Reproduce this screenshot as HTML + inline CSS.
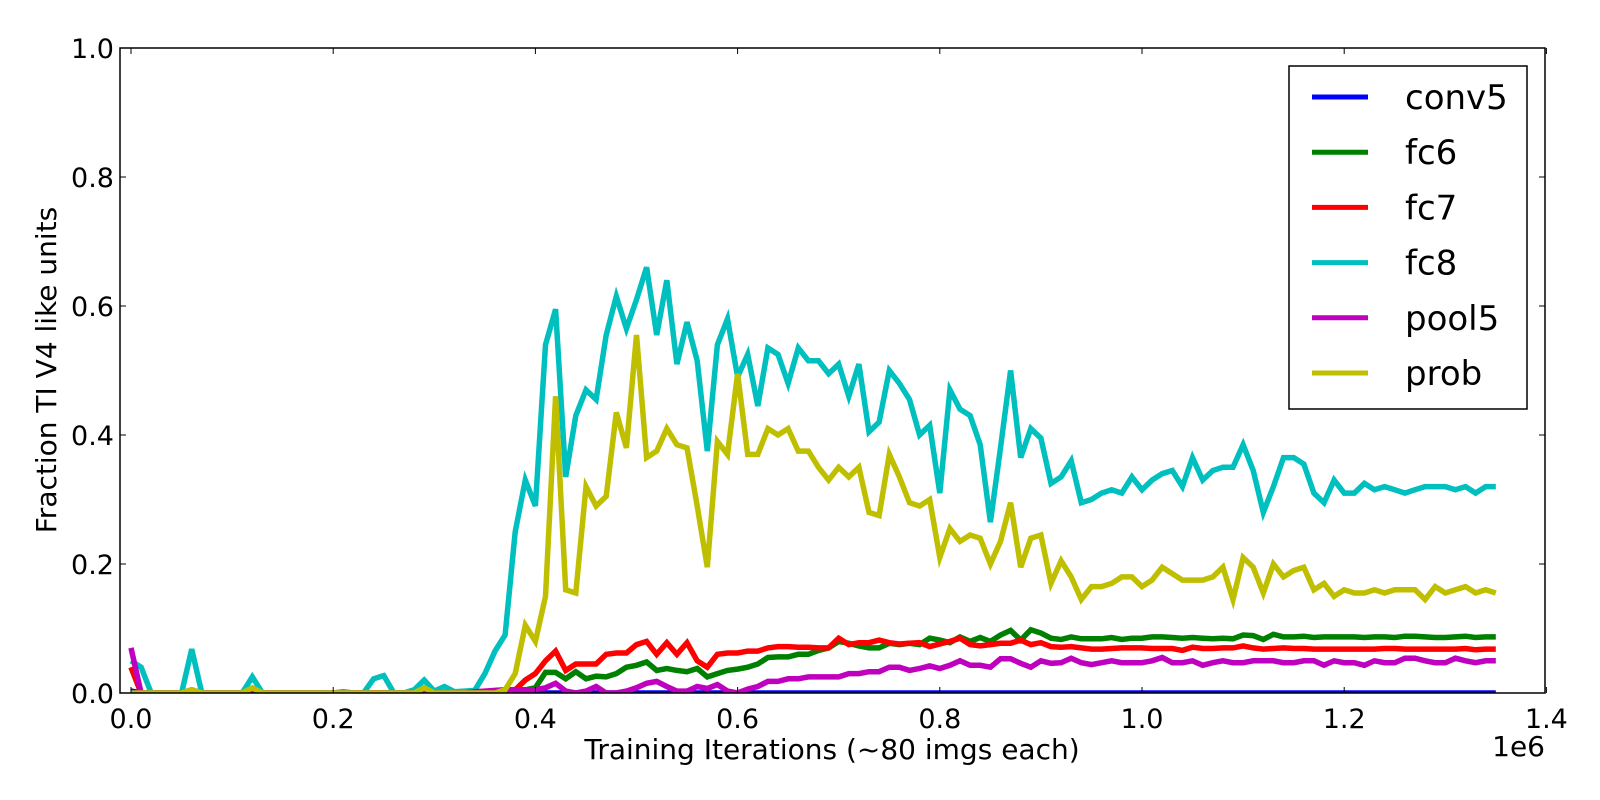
<!DOCTYPE html>
<html><head><meta charset="utf-8"><style>
body{margin:0;background:#fff;}
svg{display:block;font-family:"DejaVu Sans","Liberation Sans",sans-serif;}
</style></head><body>
<svg id="chart" width="1600" height="800" xmlns="http://www.w3.org/2000/svg">
<rect width="1600" height="800" fill="#fff"/>
<g id="plot"></g>
<g id="axes"></g>
<text x="832" y="759" font-size="28" text-anchor="middle">Training Iterations (~80 imgs each)</text>
<text x="1545" y="756" font-size="28" text-anchor="end">1e6</text>
<text transform="translate(56,370) rotate(-90)" font-size="28" text-anchor="middle">Fraction TI V4 like units</text>
<g id="legend"></g>
</svg>
<script>
const seriesNames=["conv5","fc6","fc7","fc8","pool5","prob"];
const seriesColors=["#0000ff","#008000","#ff0000","#00bfbf","#bf00bf","#bfbf00"];
const xStep=10000;
const xTicks=[0,0.2,0.4,0.6,0.8,1.0,1.2,1.4];
const yTicks=[0,0.2,0.4,0.6,0.8,1.0];
const conv5=[0.003].concat(new Array(135).fill(0));
const fc8=[0.05,0.04,0,0,0,0,0.068,0,0,0,0,0,0.025,0,0,0,0,0,0,0,0,0.002,0,0,0.022,0.027,0,0,0.005,0.02,0.003,0.01,0.002,0.003,0.004,0.03,0.065,0.09,0.25,0.33,0.29,0.54,0.595,0.335,0.43,0.47,0.455,0.555,0.615,0.565,0.61,0.66,0.555,0.64,0.51,0.575,0.515,0.375,0.54,0.58,0.49,0.525,0.445,0.535,0.525,0.48,0.535,0.515,0.515,0.495,0.51,0.46,0.51,0.405,0.42,0.5,0.48,0.455,0.4,0.415,0.31,0.47,0.44,0.43,0.385,0.265,0.38,0.5,0.365,0.41,0.395,0.325,0.335,0.36,0.295,0.3,0.31,0.315,0.31,0.335,0.315,0.33,0.34,0.345,0.32,0.365,0.33,0.345,0.35,0.35,0.385,0.345,0.28,0.32,0.365,0.365,0.355,0.31,0.295,0.33,0.31,0.31,0.325,0.315,0.32,0.315,0.31,0.315,0.32,0.32,0.32,0.315,0.32,0.31,0.32,0.32];
const prob=[0,0,0,0,0,0,0.005,0,0,0,0,0,0.008,0,0,0,0,0,0,0,0,0,0,0,0,0,0,0,0,0.008,0,0,0,0,0,0,0,0.005,0.03,0.105,0.08,0.15,0.46,0.16,0.155,0.32,0.29,0.305,0.435,0.38,0.555,0.365,0.375,0.41,0.385,0.38,0.29,0.195,0.39,0.37,0.495,0.37,0.37,0.41,0.4,0.41,0.375,0.375,0.35,0.33,0.35,0.335,0.35,0.28,0.275,0.37,0.335,0.295,0.29,0.3,0.21,0.255,0.235,0.245,0.24,0.2,0.235,0.295,0.195,0.24,0.245,0.17,0.205,0.18,0.145,0.165,0.165,0.17,0.18,0.18,0.165,0.175,0.195,0.185,0.175,0.175,0.175,0.18,0.195,0.145,0.21,0.195,0.155,0.2,0.18,0.19,0.195,0.16,0.17,0.15,0.16,0.155,0.155,0.16,0.155,0.16,0.16,0.16,0.145,0.165,0.155,0.16,0.165,0.155,0.16,0.155];
const fc7=[0.04,0,0,0,0,0,0.005,0,0,0,0,0,0.003,0,0,0,0,0,0,0,0,0,0,0,0,0,0,0,0,0.002,0,0,0,0,0,0,0.002,0.003,0.005,0.02,0.03,0.05,0.065,0.035,0.045,0.045,0.045,0.06,0.062,0.062,0.075,0.08,0.06,0.078,0.06,0.078,0.05,0.04,0.06,0.062,0.062,0.065,0.065,0.07,0.072,0.072,0.071,0.071,0.07,0.07,0.085,0.075,0.078,0.078,0.082,0.078,0.076,0.077,0.078,0.072,0.076,0.08,0.085,0.075,0.073,0.075,0.077,0.077,0.082,0.075,0.078,0.072,0.071,0.072,0.07,0.068,0.068,0.069,0.07,0.07,0.07,0.069,0.069,0.069,0.066,0.071,0.069,0.069,0.07,0.07,0.073,0.07,0.068,0.069,0.07,0.069,0.069,0.068,0.068,0.068,0.068,0.068,0.068,0.068,0.069,0.069,0.068,0.068,0.068,0.068,0.068,0.068,0.069,0.067,0.068,0.068];
const fc6=[0.04,0,0,0,0,0,0.003,0,0,0,0,0,0.003,0,0,0,0,0,0,0,0,0,0,0,0,0,0,0,0,0.002,0,0,0,0,0,0,0.002,0.003,0.004,0.005,0.008,0.032,0.032,0.022,0.033,0.022,0.026,0.025,0.03,0.04,0.043,0.048,0.035,0.038,0.035,0.033,0.038,0.025,0.03,0.035,0.037,0.04,0.045,0.055,0.056,0.056,0.06,0.06,0.066,0.07,0.08,0.077,0.073,0.07,0.07,0.077,0.075,0.077,0.075,0.085,0.082,0.078,0.087,0.08,0.086,0.08,0.09,0.097,0.082,0.098,0.093,0.085,0.083,0.087,0.084,0.084,0.084,0.086,0.083,0.085,0.085,0.087,0.087,0.086,0.085,0.086,0.085,0.084,0.085,0.084,0.09,0.089,0.083,0.091,0.087,0.087,0.088,0.086,0.087,0.087,0.087,0.087,0.086,0.087,0.087,0.086,0.088,0.088,0.087,0.086,0.086,0.087,0.088,0.086,0.087,0.087];
const pool5=[0.07,0,0,0,0,0,0,0,0,0,0,0,0.002,0,0,0,0,0,0,0,0,0,0,0,0,0,0,0,0,0.002,0,0,0,0,0.002,0.003,0.004,0.005,0.005,0.005,0.005,0.008,0.015,0.003,0,0.003,0.01,0,0,0.003,0.008,0.015,0.018,0.01,0.003,0.003,0.01,0.007,0.013,0.003,0,0.006,0.01,0.018,0.018,0.022,0.022,0.025,0.025,0.025,0.025,0.03,0.03,0.033,0.033,0.04,0.04,0.035,0.038,0.042,0.038,0.043,0.05,0.043,0.043,0.04,0.053,0.053,0.046,0.04,0.05,0.046,0.047,0.054,0.047,0.044,0.047,0.05,0.047,0.047,0.047,0.05,0.055,0.047,0.047,0.05,0.043,0.047,0.05,0.047,0.047,0.05,0.05,0.05,0.047,0.047,0.05,0.05,0.043,0.05,0.047,0.047,0.043,0.05,0.047,0.047,0.054,0.054,0.05,0.047,0.047,0.054,0.05,0.047,0.05,0.05];
const seriesData=[conv5,fc6,fc7,fc8,pool5,prob];

const L=120,R=1545,T=48,B=693;
const X0=131, XPX=1011;
function xs(v){return X0+v*XPX/1e6;}
function ys(v){return B-(v)*(B-T);}
const NS="http://www.w3.org/2000/svg";
function mk(tag,attrs,parent){const e=document.createElementNS(NS,tag);for(const k in attrs)e.setAttribute(k,attrs[k]);parent.appendChild(e);return e;}
const plot=document.getElementById('plot'),axes=document.getElementById('axes'),legend=document.getElementById('legend');
const defs=mk('defs',{},plot);
const cp=mk('clipPath',{id:'clip'},defs);mk('rect',{x:L,y:T,width:R-L,height:B-T},cp);
seriesData.forEach((arr,si)=>{
  const pts=arr.map((v,i)=>xs(i*xStep).toFixed(1)+','+ys(v).toFixed(1)).join(' ');
  const pl=mk('polyline',{points:pts,fill:'none',stroke:seriesColors[si],'stroke-width':5.5,'stroke-linejoin':'miter','clip-path':'url(#clip)'},plot);
  
  
});
const frame=mk('rect',{x:L,y:T,width:R-L,height:B-T,fill:'none',stroke:'#000','stroke-width':1.5},axes);


xTicks.forEach(t=>{
  const x=xs(t*1e6);
  mk('line',{x1:x,x2:x,y1:B,y2:B-6,stroke:'#000'},axes);
  mk('line',{x1:x,x2:x,y1:T,y2:T+6,stroke:'#000'},axes);
  const tx=mk('text',{x:x,y:B+35,'font-size':27,'text-anchor':'middle'},axes);
  tx.textContent=t.toFixed(1);
  
  
});
yTicks.forEach(t=>{
  const y=ys(t);
  mk('line',{x1:L,x2:L+6,y1:y,y2:y,stroke:'#000'},axes);
  mk('line',{x1:R,x2:R-6,y1:y,y2:y,stroke:'#000'},axes);
  const tx=mk('text',{x:L-6,y:y+10,'font-size':27,'text-anchor':'end'},axes);
  tx.textContent=t.toFixed(1);
  
  
});
const lb=mk('rect',{x:1289,y:66,width:238,height:343,fill:'#fff',stroke:'#000','stroke-width':1.5},legend);


seriesNames.forEach((n,i)=>{
  const y=97+i*55.2;
  const g=mk('g',{},legend);
  
  
  mk('line',{x1:1312,x2:1368,y1:y,y2:y,stroke:seriesColors[i],'stroke-width':5},g);
  const t=mk('text',{x:1405,y:y+12,'font-size':34},g);
  t.textContent=n;
});
</script>
</body></html>
